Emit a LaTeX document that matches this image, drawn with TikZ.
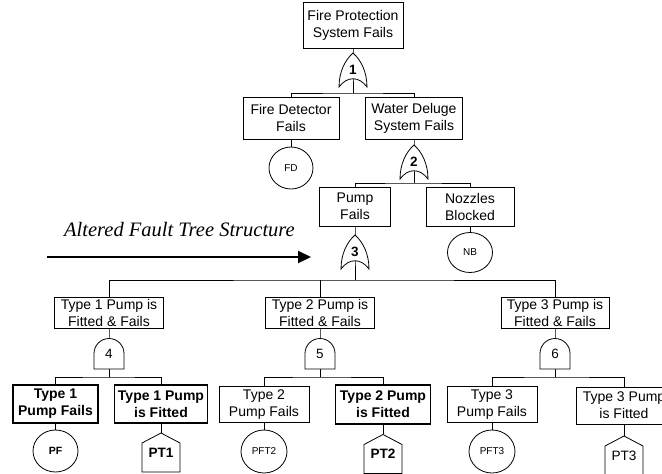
\documentclass[tikz,border=0pt]{standalone}
\usepackage{fontspec}
\setmainfont{Liberation Sans}
\newfontfamily\captionserif{Liberation Serif}
\usetikzlibrary{arrows.meta,shapes.geometric,backgrounds}

\begin{document}
\begin{tikzpicture}[x=1pt,y=-1pt,
  event/.style={draw, line width=0.8pt, fill=white, align=center, inner sep=0pt,
    font=\fontsize{14}{17}\selectfont},
  keyevent/.style={event, line width=1.7pt, font=\fontsize{14}{17}\selectfont\bfseries},
  basic/.style={draw, ellipse, line width=0.8pt, fill=white, inner sep=0pt,
    font=\fontsize{10}{12}\selectfont},
  gatelbl/.style={inner sep=0pt, font=\fontsize{13.5}{16}\selectfont},
  orlbl/.style={gatelbl, minimum width=28pt, minimum height=34pt},
  andlbl/.style={gatelbl, minimum width=30pt, minimum height=31pt},
  housebox/.style={inner sep=0pt, minimum width=38pt, minimum height=39pt,
    font=\fontsize{13.6}{16}\selectfont},
  link/.style={line width=0.8pt},
  bigarrow/.style={line width=2.2pt, -{Triangle[length=13pt,width=12pt]}},
  orgate/.pic={\draw[line width=0.8pt, fill=white]
    (0,-17) .. controls (-8,-10) and (-14,2) .. (-14,17)
    .. controls (-6,6) and (6,6) .. (14,17)
    .. controls (14,2) and (8,-10) .. (0,-17) -- cycle;},
  andgate/.pic={\draw[line width=0.8pt, fill=white]
    (-15,15.5) -- (-15,0) arc[start angle=180, end angle=0, radius=15pt]
    -- (15,15.5) -- cycle;},
  housepic/.pic={\draw[line width=0.8pt, fill=white]
    (0,-19.5) -- (19,-9.5) -- (19,19.5) -- (-19,19.5) -- (-19,-9.5) -- cycle;},
]
\path[use as bounding box] (0,0) rectangle (662,474);
\clip (0,0) rectangle (662,474);

% ---- events ----
\node[event, minimum width=100pt, minimum height=46pt] (top) at (353,25)
  {Fire Protection\\System Fails};
\node[event, minimum width=96pt, minimum height=42pt] (fd) at (291,118)
  {Fire Detector\\Fails};
\node[event, minimum width=97pt, minimum height=42pt] (wd) at (414,118)
  {Water Deluge\\System Fails};
\node[event, minimum width=71pt, minimum height=39pt] (pfb) at (355,206.5)
  {Pump\\Fails};
\node[event, minimum width=88pt, minimum height=39pt] (nbb) at (470,206.5)
  {Nozzles\\Blocked};
\node[event, minimum width=109pt, minimum height=31pt] (t1) at (109,312.5)
  {Type 1 Pump is\\Fitted \& Fails};
\node[event, minimum width=109pt, minimum height=31pt] (t2) at (320,312.5)
  {Type 2 Pump is\\Fitted \& Fails};
\node[event, minimum width=108pt, minimum height=31pt] (t3) at (555,312.5)
  {Type 3 Pump is\\Fitted \& Fails};
\node[keyevent, minimum width=85pt, minimum height=38pt] (l1a) at (55.5,404)
  {Type 1\\Pump Fails};
\node[keyevent, minimum width=93pt, minimum height=38pt] (l1b) at (161,404)
  {Type 1 Pump\\is Fitted};
\node[event, minimum width=90pt, minimum height=36pt] (l2a) at (264,404.5)
  {Type 2\\Pump Fails};
\node[keyevent, minimum width=95pt, minimum height=39pt] (l2b) at (383,404.5)
  {Type 2 Pump\\is Fitted};
\node[event, minimum width=90pt, minimum height=36pt] (l3a) at (492,404.5)
  {Type 3\\Pump Fails};
\node[event, minimum width=96pt, minimum height=37pt] (l3b) at (624,405.5)
  {Type 3 Pump\\is Fitted};

% ---- basic events ----
\node[basic, minimum width=44pt, minimum height=42pt] (fdc) at (291,168) {FD};
\node[basic, minimum width=45pt, minimum height=40pt] (nbc) at (470,252.5) {NB};
\node[basic, minimum width=45pt, minimum height=42pt, font=\fontsize{10.5}{12}\selectfont\bfseries]
  (pfc) at (55.5,451) {PF};
\node[basic, minimum width=46pt, minimum height=43pt] (pft2) at (264,451.5) {PFT2};
\node[basic, minimum width=46pt, minimum height=43pt] (pft3) at (492,451.5) {PFT3};

% ---- house events ----
\pic at (161,452.5) {housepic};
\node[housebox, font=\fontsize{13.6}{16}\selectfont\bfseries] (pt1) at (161,452.5) {PT1};
\pic at (383,454) {housepic};
\node[housebox, font=\fontsize{13.6}{16}\selectfont\bfseries] (pt2) at (383,454) {PT2};
\pic at (624,455.5) {housepic};
\node[housebox] (pt3) at (624,455.5) {PT3};

% ---- gates ----
\pic at (353,70) {orgate};
\node[orlbl] (g1) at (353,70) {\bfseries 1};
\pic at (414,162) {orgate};
\node[orlbl] (g2) at (414,162) {\bfseries 2};
\pic at (355,252) {orgate};
\node[orlbl] (g3) at (355,252) {\bfseries 3};
\pic at (109,353.5) {andgate};
\node[andlbl] (g4) at (109,353.5) {4};
\pic at (320,353.5) {andgate};
\node[andlbl] (g5) at (320,353.5) {5};
\pic at (555,353.5) {andgate};
\node[andlbl] (g6) at (555,353.5) {6};

% ---- branch points ----
\coordinate (b1) at (353,93);
\coordinate (b2) at (414,183);
\coordinate (b3) at (355,280);
\coordinate (b4) at (109,377);
\coordinate (b5) at (320,377);
\coordinate (b6) at (555,377);

% ---- connectors (behind the symbols) ----
\begin{pgfonlayer}{background}
  \draw[link] (top.south) -- (g1.center) -- (b1);
  \draw[link] (fd.north) |- (b1) -| (wd.north);
  \draw[link] (fd.south) -- (fdc.north);
  \draw[link] (wd.south) -- (g2.center) -- (b2);
  \draw[link] (pfb.north) |- (b2) -| (nbb.north);
  \draw[link] (nbb.south) -- (nbc.north);
  \draw[link] (pfb.south) -- (g3.center) -- (b3);
  \draw[link] (t1.north) |- (b3) -| (t3.north);
  \draw[link] (t2.north) -- (t2.north |- b3);
  \draw[link] (t1.south) -- (g4.center) -- (b4);
  \draw[link] (l1a.north) |- (b4) -| (l1b.north);
  \draw[link] (t2.south) -- (g5.center) -- (b5);
  \draw[link] (l2a.north) |- (b5) -| (l2b.north);
  \draw[link] (t3.south) -- (g6.center) -- (b6);
  \draw[link] (l3a.north) |- (b6) -| (l3b.north);
  \draw[link] (l1a.south) -- (pfc.north);
  \draw[link] (l1b.south) -- (pt1.north);
  \draw[link] (l2a.south) -- (pft2.north);
  \draw[link] (l2b.south) -- (pt2.north);
  \draw[link] (l3a.south) -- (pft3.north);
  \draw[link] (l3b.south) -- (pt3.north);
\end{pgfonlayer}

% ---- annotation ----
\node[anchor=base, inner sep=0pt, font=\captionserif\itshape\fontsize{20.5}{24}\selectfont]
  (alt) at (179.5,236) {Altered Fault Tree Structure};
\coordinate (arrS) at (47,257);
\coordinate (arrE) at (311,257);
\draw[bigarrow] (arrS) -- (arrE);
\end{tikzpicture}
\end{document}
